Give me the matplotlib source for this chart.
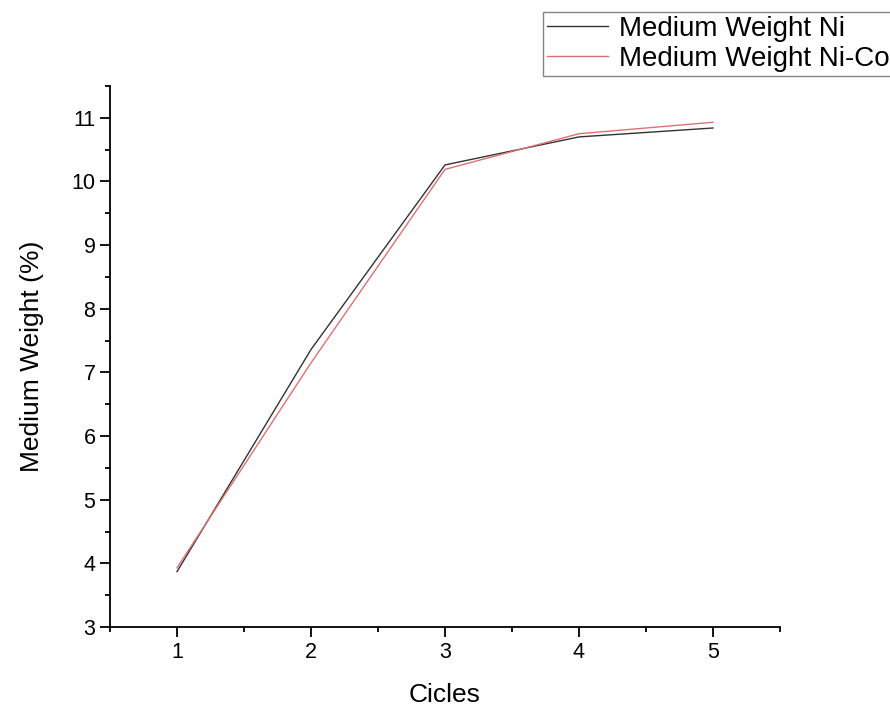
import matplotlib.pyplot as plt
from matplotlib.ticker import MultipleLocator

plt.rcParams['font.family'] = ['Liberation Sans', 'DejaVu Sans']

cycles = [1, 2, 3, 4, 5]
ni = [3.87, 7.36, 10.26, 10.70, 10.84]
ni_co = [3.93, 7.15, 10.19, 10.75, 10.93]

fig = plt.figure(figsize=(8.9, 7.06), dpi=100)
ax = fig.add_axes([0.1236, 0.1119, 0.7528, 0.7663])

l1, = ax.plot(cycles, ni, color='#333333', lw=1.0, label='Medium Weight Ni')
l2, = ax.plot(cycles, ni_co, color='#e07070', lw=1.0, label='Medium Weight Ni-Co')

ax.set_xlim(0.5, 5.5)
ax.set_ylim(3, 11.5)
ax.xaxis.set_major_locator(MultipleLocator(1))
ax.xaxis.set_minor_locator(MultipleLocator(0.5))
ax.yaxis.set_major_locator(MultipleLocator(1))
ax.yaxis.set_minor_locator(MultipleLocator(0.5))
ax.spines['top'].set_visible(False)
ax.spines['right'].set_visible(False)
for s in ('left', 'bottom'):
    ax.spines[s].set_linewidth(1.3)
ax.tick_params(which='major', direction='out', length=7, width=1.3, labelsize=15.5)
ax.tick_params(which='minor', direction='out', length=3.5, width=1.3)

ax.set_xlabel('Cicles', fontsize=19, labelpad=15)
ax.set_ylabel('Medium Weight (%)', fontsize=19, labelpad=20)

leg = fig.legend(handles=[l1, l2], loc='upper left',
                 bbox_to_anchor=(543 / 890, 1 - 12 / 706),
                 fontsize=20, frameon=True, fancybox=False,
                 borderpad=0.15, handlelength=2.2, handletextpad=0.4,
                 labelspacing=0.12, borderaxespad=0)
leg.get_frame().set_edgecolor('#666666')
leg.get_frame().set_linewidth(1.0)

fig.savefig('out.png', dpi=100)
